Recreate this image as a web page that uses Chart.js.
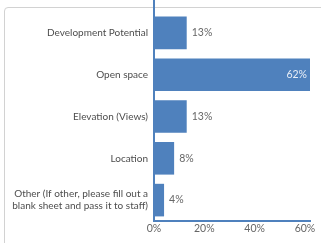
<!DOCTYPE html>
<html>
<head>
<meta charset="utf-8">
<script src="https://cdn.jsdelivr.net/npm/chart.js@4"></script>
<style>
  html, body { margin: 0; padding: 0; background: #fff; }
  #wrap { position: relative; width: 321px; height: 243px; overflow: hidden; }
  #frame {
    position: absolute; left: 4px; top: 7px; width: 330px; height: 250px;
    border: 1px solid #d2d2d2; border-radius: 4px; box-sizing: border-box;
  }
  canvas { position: absolute; left: 0; top: 0; }
</style>
</head>
<body>
<div id="wrap">
  <div id="frame"></div>
  <canvas id="chart" width="321" height="243"></canvas>
</div>
<script>
// Survey answers, share of responses (%)
const categories = [
  'Development Potential',
  'Open space',
  'Elevation (Views)',
  'Location',
  ['Other (If other, please fill out a', 'blank sheet and pass it to staff)']
];
const values = [13, 62, 13, 8, 4];
const xTicks = [0, 20, 40, 60];

const BLUE = '#4f81bd';
const FONT = 'Lato, "Open Sans", sans-serif';

// value labels: outside the bar in gray, inside (white) when the bar is long
const valueLabels = {
  id: 'valueLabels',
  afterDatasetsDraw(chart) {
    const ctx = chart.ctx;
    const meta = chart.getDatasetMeta(0);
    ctx.save();
    ctx.font = '10.5px ' + FONT;
    ctx.textBaseline = 'middle';
    meta.data.forEach((bar, i) => {
      const txt = values[i] + '%';
      if (values[i] > 50) {
        ctx.fillStyle = '#e8eef7';
        ctx.textAlign = 'right';
        ctx.fillText(txt, bar.x - 3, bar.y);
      } else {
        ctx.fillStyle = '#666';
        ctx.textAlign = 'left';
        ctx.fillText(txt, bar.x + 5, bar.y);
      }
    });
    ctx.restore();
  }
};

// the vertical axis line runs up to the top edge in the picture
const axisExtend = {
  id: 'axisExtend',
  afterDraw(chart) {
    const ctx = chart.ctx;
    const x = chart.scales.y.right;
    ctx.save();
    ctx.strokeStyle = BLUE;
    ctx.lineWidth = 2;
    ctx.beginPath();
    ctx.moveTo(x, 0);
    ctx.lineTo(x, chart.chartArea.top);
    ctx.stroke();
    ctx.restore();
  }
};

new Chart(document.getElementById('chart'), {
  type: 'bar',
  data: {
    labels: categories,
    datasets: [{
      data: values,
      backgroundColor: BLUE,
      borderWidth: 0,
      barPercentage: 0.78,
      categoryPercentage: 1
    }]
  },
  options: {
    indexAxis: 'y',
    responsive: false,
    animation: false,
    layout: { padding: { top: 12, right: 11, bottom: 2, left: 0 } },
    plugins: { legend: { display: false }, tooltip: { enabled: false } },
    scales: {
      x: {
        min: 0,
        max: 62,
        afterBuildTicks(scale) { scale.ticks = xTicks.map(v => ({ value: v })); },
        afterFit(scale) { scale.height = 20; },
        grid: { display: false, drawTicks: false },
        border: { color: BLUE, width: 2 },
        ticks: {
          color: '#666',
          font: { family: FONT, size: 10.5 },
          padding: 1,
          callback: v => v + '%'
        }
      },
      y: {
        afterFit(scale) {
          scale.width = 154;
          scale.paddingTop = 0;
          scale.paddingBottom = 0;
        },
        grid: { display: false, drawTicks: false },
        border: { color: BLUE, width: 2 },
        ticks: {
          color: '#4d4d4d',
          font: { family: FONT, size: 10 },
          padding: 6
        }
      }
    }
  },
  plugins: [valueLabels, axisExtend]
});
</script>
</body>
</html>
